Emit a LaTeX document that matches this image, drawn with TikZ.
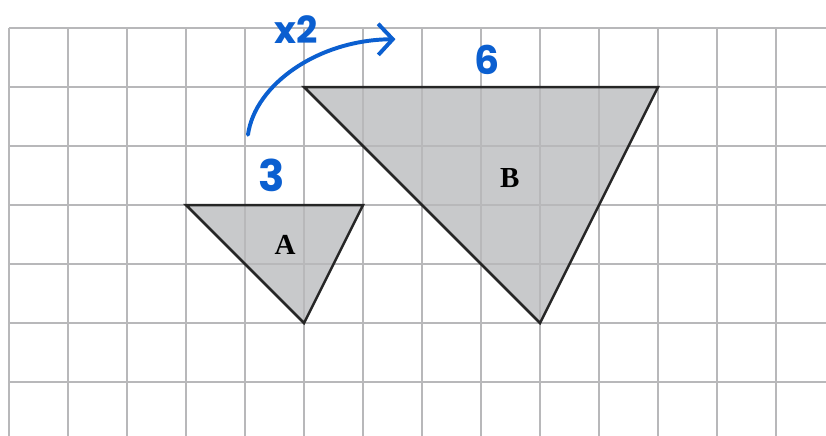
\documentclass[tikz,border=0pt]{standalone}
\usepackage{fontspec}
\setmainfont{Liberation Serif}
\newfontfamily\handfont{Poppins}
\usetikzlibrary{arrows.meta, positioning}

\definecolor{inkblue}{HTML}{0B5FD0}
\definecolor{shapegray}{HTML}{C8C9CB}
\definecolor{gridgray}{HTML}{B8B8BA}

\begin{document}
\begin{tikzpicture}[
  gridline/.style={gridgray, line width=0.72pt},
  shapeline/.style={black!85, line width=1.2pt, line join=miter},
  shapelabel/.style={font=\fontsize{14}{16}\selectfont\bfseries, inner sep=0pt},
  hand/.style={inkblue, font=\handfont\bfseries\fontsize{21}{24}\selectfont, inner sep=0pt},
  handline/.style={inkblue, line width=1.9pt, line cap=round}
]
\useasboundingbox (-0.1525,-6.915) rectangle (13.847,0.4746);

% corners of the two triangles
\coordinate (a1) at (3,-3);
\coordinate (a2) at (6,-3);
\coordinate (a3) at (5,-5);
\coordinate (b1) at (5,-1);
\coordinate (b2) at (11,-1);
\coordinate (b3) at (9,-5);

\fill [shapegray] (a1) -- (a2) -- (a3) -- cycle;
\fill [shapegray] (b1) -- (b2) -- (b3) -- cycle;

% squared paper
\foreach \x in {0,...,13}
  \draw [gridline] (\x,0) -- (\x,-6.915);
\foreach \y in {0,...,6}
  \draw [gridline] (0,-\y) -- (13.847,-\y);

\draw [shapeline] (a1) -- (a2) -- (a3) -- cycle;
\draw [shapeline] (b1) -- (b2) -- (b3) -- cycle;

\node [shapelabel] (labA) at (4.68,-3.68) {A};
\node [shapelabel] (labB) at (8.49,-2.54) {B};

% handwritten scale factor
\node [hand] (lab3) at (4.46,-2.49) {3};
\node [hand, font=\handfont\bfseries\fontsize{19}{22}\selectfont] (lab6) at (8.10,-0.54) {6};
\node [hand, font=\handfont\bfseries\fontsize{18}{20}\selectfont] (labx2) at (4.86,-0.03) {x2};
\coordinate (arcstart) at (4.05,-1.81);
\coordinate (arcend) at (6.55,-0.19);
\draw [handline, -{Straight Barb[length=7pt, width=15pt, line width=1.9pt]}]
  (arcstart) .. controls (4.17,-0.95) and (5.25,-0.20) .. (arcend);
\end{tikzpicture}
\end{document}
